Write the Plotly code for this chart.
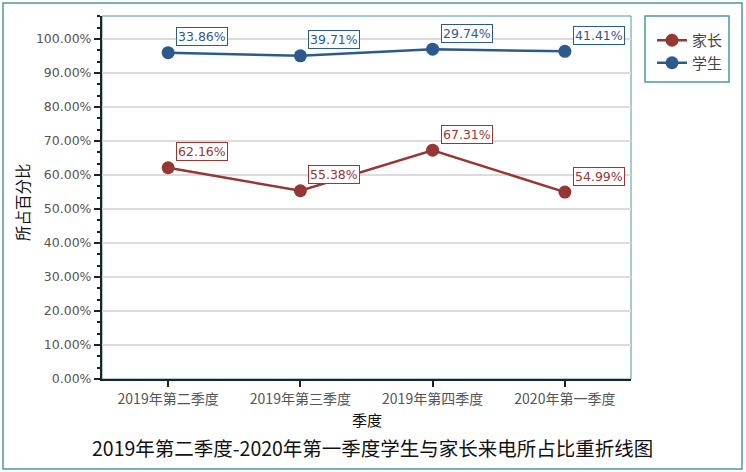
import plotly.graph_objects as go
import numpy as np

categories = ["2019年第二季度", "2019年第三季度", "2019年第四季度", "2020年第一季度"]
parents = [62.16, 55.38, 67.31, 54.99]
students = [33.86, 39.71, 29.74, 41.41]
series_names = ["家长", "学生"]
y_ticks = [0, 10, 20, 30, 40, 50, 60, 70, 80, 90, 100]

RED = "#953735"
BLUE = "#2c5a8e"
TEAL = "#4e96a3"
W, H = 746, 472
L, R, T, B = 102, 115, 16, 93
pw, ph = W - L - R, H - T - B

def px(x):
    return (x - L) / pw

def py(y):
    return (H - B - y) / ph

fig = go.Figure()
for name, vals, col in [(series_names[0], parents, RED), (series_names[1], students, BLUE)]:
    fig.add_trace(go.Scatter(
        x=categories, y=vals, name=name, stackgroup="one", fill="none",
        mode="lines+markers", line=dict(color=col, width=2.5),
        marker=dict(size=13, color=col),
    ))

cum = [np.array(parents), np.array(parents) + np.array(students)]
annotations = []
for vals, c, col in [(parents, cum[0], RED), (students, cum[1], BLUE)]:
    for cat, v, yy in zip(categories, vals, c):
        annotations.append(dict(
            x=cat, y=float(yy), xref="x", yref="y", text=f"{v:.2f}%",
            showarrow=False, xshift=34, yshift=16,
            font=dict(family="DejaVu Sans", size=12.5, color=col),
            bgcolor="white", bordercolor=col, borderwidth=1, borderpad=1,
        ))

annotations.append(dict(
    x=0.5, y=py(419), xref="paper", yref="paper", text="季度", showarrow=False,
    font=dict(family="Noto Sans CJK SC", size=15, color="#111"), yanchor="middle",
))
annotations.append(dict(
    x=px(22), y=py(202), xref="paper", yref="paper", text="所占百分比", showarrow=False,
    textangle=-90, font=dict(family="Noto Sans CJK SC", size=15.5, color="#111"),
    xanchor="center", yanchor="middle",
))
annotations.append(dict(
    x=px(372), y=py(447), xref="paper", yref="paper",
    text="2019年第二季度-2020年第一季度学生与家长来电所占比重折线图", showarrow=False,
    font=dict(family="Noto Sans CJK SC", size=19.5, color="#111"),
    xanchor="center", yanchor="middle",
))

shapes = [
    dict(type="rect", xref="paper", yref="paper", x0=0, x1=1, y0=0, y1=1,
         line=dict(color=TEAL, width=1), layer="below"),
    dict(type="rect", xref="paper", yref="paper", x0=px(3), x1=px(742), y0=py(469), y1=py(3),
         line=dict(color=TEAL, width=1.5), layer="below"),
    dict(type="rect", xref="paper", yref="paper", x0=px(645), x1=px(729), y0=py(82), y1=py(16),
         line=dict(color=TEAL, width=1.5), layer="below"),
]

fig.update_layout(
    width=W, height=H, margin=dict(l=L, r=R, t=T, b=B),
    paper_bgcolor="white", plot_bgcolor="white",
    showlegend=True,
    legend=dict(x=px(652), y=py(24), xanchor="left", yanchor="top", traceorder="normal",
                font=dict(family="Noto Sans CJK SC", size=15, color="#444"),
                bgcolor="rgba(0,0,0,0)", borderwidth=0, itemwidth=30),
    annotations=annotations, shapes=shapes,
    xaxis=dict(type="category", range=[-0.5, 3.5], showline=True, linecolor="#222", linewidth=2,
               ticks="outside", ticklen=6, tickcolor="#222", tickwidth=2,
               tickfont=dict(family="Noto Sans CJK SC", size=14, color="#555"),
               showgrid=False,
               minor=dict(ticks="outside", ticklen=3, tickcolor="#222", dtick=0.2, tick0=-0.4, showgrid=False)),
    yaxis=dict(range=[0, 106.8], tickvals=y_ticks, ticktext=[f"{v:.2f}%" for v in y_ticks],
               showline=True, linecolor="#222", linewidth=2,
               ticks="outside", ticklen=6, tickcolor="#222", tickwidth=2,
               tickfont=dict(family="DejaVu Sans", size=12.5, color="#555"),
               showgrid=True, gridcolor="#dcdcdc", gridwidth=1.5, zeroline=False,
               minor=dict(ticks="outside", ticklen=3, tickcolor="#222", dtick=10/3, tick0=0, showgrid=False)),
)

fig.write_html("out.html")
